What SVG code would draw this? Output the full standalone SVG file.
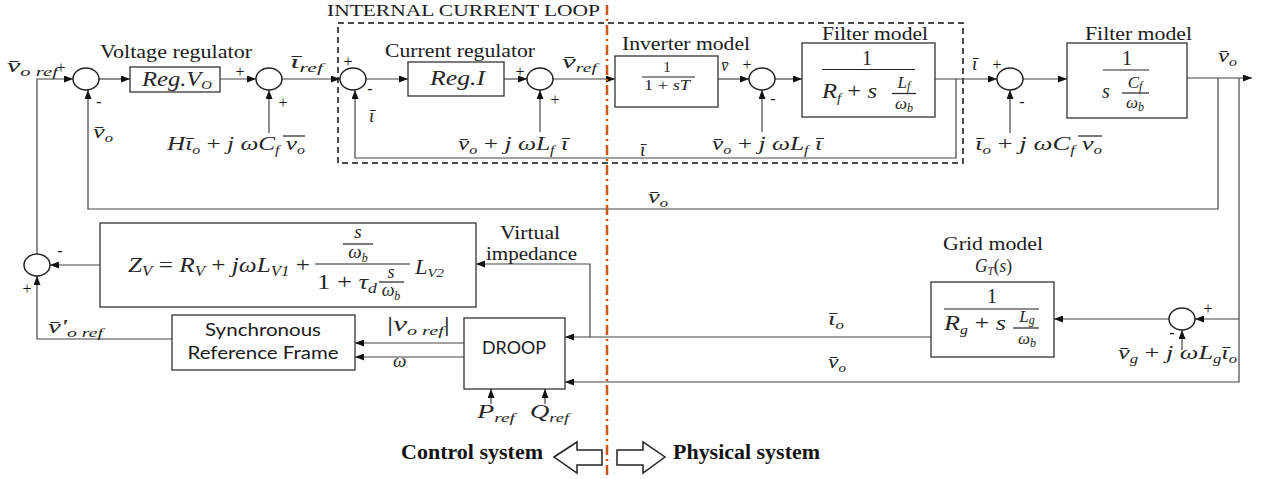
<svg xmlns="http://www.w3.org/2000/svg" width="1263" height="479" viewBox="0 0 1263 479">
<style>
.t{font-family:"Liberation Serif",serif;font-size:18px;fill:#1a1a1a}
.b{font-family:"Liberation Serif",serif;font-size:20px;font-weight:bold;fill:#111}
.m{font-family:"Liberation Serif",serif;font-style:italic;font-size:19px;fill:#262626}
.n{font-style:normal}
.sb{font-size:12px}
.pm{font-family:"Liberation Serif",serif;font-size:16px;fill:#111;text-anchor:middle}
.sf{font-family:Lato,"Liberation Sans",sans-serif;font-size:17px;fill:#1a1a1a;text-anchor:middle}
.box{fill:#fff;stroke:#333;stroke-width:1.3}
.sum{fill:#fff;stroke:#222;stroke-width:1.5}
.ln{fill:none;stroke:#444;stroke-width:1.2}
.bar{stroke:#222;stroke-width:1.2}
.mid{text-anchor:middle}
</style>
<defs>
<marker id="ah" markerWidth="9" markerHeight="7" refX="9" refY="3.5" orient="auto" markerUnits="userSpaceOnUse"><path d="M0,0 L9,3.5 L0,7 z" fill="#111"/></marker>
</defs>
<rect width="1263" height="479" fill="#fff"/>

<g id="internal-loop">
<rect x="338" y="23" width="625" height="140" fill="none" stroke="#111" stroke-width="1.5" stroke-dasharray="6 4"/>
<text class="t" x="327" y="16" style="font-size:17px" textLength="273" lengthAdjust="spacingAndGlyphs">INTERNAL CURRENT LOOP</text>
</g>

<g id="connectors" class="ln" marker-end="url(#ah)">
<path d="M37,254 V79 H73"/>
<path d="M99,79 H130"/>
<path d="M220,79 H256"/>
<path d="M269,133 V90"/>
<path d="M282,79 H340"/>
<path d="M366,79 H408"/>
<path d="M504,79 H527"/>
<path d="M540,132 V90"/>
<path d="M553,79 H615"/>
<path d="M718,79 H749"/>
<path d="M762,132 V90"/>
<path d="M775,79 H802"/>
<path d="M935,79 H997"/>
<path d="M956,79 V158 H355 V90"/>
<path d="M1010,133 V90"/>
<path d="M1023,79 H1067"/>
<path d="M1187,78 H1252"/>
<path d="M1218,78 V209 H88 V90"/>
<path d="M1239,78 V382 H565"/>
<path d="M1239,319 H1195"/>
<path d="M1182,350 V330"/>
<path d="M1169,319 H1054"/>
<path d="M931,337 H565"/>
<path d="M590,337 V264 H476"/>
<path d="M100,265 H50"/>
<path d="M464,343 H355"/>
<path d="M464,357 H355"/>
<path d="M172,339 H37 V276"/>
<path d="M491,404 V389"/>
<path d="M545,404 V389"/>
</g>

<g id="sum-junctions">
<ellipse id="sum1" class="sum" cx="86" cy="79" rx="13" ry="11"/>
<ellipse id="sum2" class="sum" cx="269" cy="79" rx="13" ry="11"/>
<ellipse id="sum3" class="sum" cx="353" cy="79" rx="13" ry="11"/>
<ellipse id="sum4" class="sum" cx="540" cy="79" rx="13" ry="11"/>
<ellipse id="sum5" class="sum" cx="762" cy="79" rx="13" ry="11"/>
<ellipse id="sum6" class="sum" cx="1010" cy="79" rx="13" ry="11"/>
<ellipse id="sum7" class="sum" cx="1182" cy="319" rx="13" ry="11"/>
<ellipse id="sum8" class="sum" cx="37" cy="265" rx="13" ry="11"/>
</g>

<g id="signs">
<text class="pm" x="61" y="73">+</text>
<text class="pm" x="99" y="107">-</text>
<text class="pm" x="240" y="77">+</text>
<text class="pm" x="283" y="108">+</text>
<text class="pm" x="348" y="67">+</text>
<text class="pm" x="370" y="94">-</text>
<text class="pm" x="520" y="77">+</text>
<text class="pm" x="555" y="105">+</text>
<text class="pm" x="747" y="70">+</text>
<text class="pm" x="773" y="104">-</text>
<text class="pm" x="997" y="70">+</text>
<text class="pm" x="1022" y="107">-</text>
<text class="pm" x="1208" y="314">+</text>
<text class="pm" x="1172" y="338">-</text>
<text class="pm" x="60" y="256">-</text>
<text class="pm" x="27" y="294">+</text>
</g>

<g id="voltage-regulator">
<text class="t" x="100" y="58" textLength="152" lengthAdjust="spacingAndGlyphs">Voltage regulator</text>
<rect class="box" x="130" y="67" width="90" height="25"/>
<text class="m" x="142" y="86" style="font-size:20px" textLength="70" lengthAdjust="spacingAndGlyphs">Reg.V<tspan class="sb" dy="3">O</tspan></text>
</g>

<g id="current-regulator">
<text class="t" x="385" y="57" textLength="150" lengthAdjust="spacingAndGlyphs">Current regulator</text>
<rect class="box" x="408" y="62" width="96" height="34"/>
<text class="m" x="430" y="85" style="font-size:20px" textLength="55" lengthAdjust="spacingAndGlyphs">Reg.I</text>
</g>

<g id="inverter-model">
<text class="t" x="622" y="50" textLength="128" lengthAdjust="spacingAndGlyphs">Inverter model</text>
<rect class="box" x="615" y="56" width="103" height="51"/>
<text class="m mid n" x="667" y="72" style="font-size:15px">1</text>
<line class="bar" x1="642" y1="77" x2="695" y2="77"/>
<text class="m mid" x="667" y="90" style="font-size:15px" textLength="46" lengthAdjust="spacingAndGlyphs"><tspan class="n">1 + </tspan>sT</text>
</g>

<g id="filter-model-1">
<text class="t" x="822" y="40" textLength="106" lengthAdjust="spacingAndGlyphs">Filter model</text>
<rect class="box" x="802" y="43" width="133" height="74"/>
<text class="m mid n" x="867" y="65" style="font-size:20px">1</text>
<line class="bar" x1="822" y1="69.5" x2="915" y2="69.5"/>
<text class="m" x="822" y="98" style="font-size:20px" textLength="55" lengthAdjust="spacingAndGlyphs">R<tspan class="sb" dy="4">f</tspan><tspan class="n" dy="-4"> + </tspan>s</text>
<text class="m mid" x="904" y="88" style="font-size:17px">L<tspan class="sb" dy="2">f</tspan></text>
<line class="bar" x1="892" y1="93.5" x2="916" y2="93.5"/>
<text class="m mid" x="904" y="109" style="font-size:17px">ω<tspan class="sb" dy="3">b</tspan></text>
</g>

<g id="filter-model-2">
<text class="t" x="1085" y="40" textLength="107" lengthAdjust="spacingAndGlyphs">Filter model</text>
<rect class="box" x="1067" y="43" width="120" height="75"/>
<text class="m mid n" x="1127" y="65" style="font-size:20px">1</text>
<line class="bar" x1="1103" y1="70" x2="1149" y2="70"/>
<text class="m" x="1102" y="98" style="font-size:20px">s</text>
<text class="m mid" x="1135" y="88" style="font-size:17px">C<tspan class="sb" dy="2">f</tspan></text>
<line class="bar" x1="1122" y1="93" x2="1149" y2="93"/>
<text class="m mid" x="1135" y="108" style="font-size:17px">ω<tspan class="sb" dy="3">b</tspan></text>
</g>

<g id="virtual-impedance">
<rect class="box" x="100" y="223" width="376" height="84"/>
<text class="m" x="128" y="272" style="font-size:21px" textLength="182" lengthAdjust="spacingAndGlyphs">Z<tspan class="sb" style="font-size:14px" dy="4">V</tspan><tspan class="n" dy="-4"> = </tspan>R<tspan style="font-size:14px" dy="4">V</tspan><tspan class="n" dy="-4"> + </tspan>jωL<tspan style="font-size:14px" dy="4">V1</tspan><tspan class="n" dy="-4"> +</tspan></text>
<text class="m mid" x="358" y="238" style="font-size:19px">s</text>
<line class="bar" x1="343" y1="244" x2="373" y2="244"/>
<text class="m mid" x="358" y="258" style="font-size:19px">ω<tspan class="sb" dy="4">b</tspan></text>
<line class="bar" x1="315" y1="264" x2="410" y2="264"/>
<text class="m" x="317" y="289" style="font-size:21px" textLength="60" lengthAdjust="spacingAndGlyphs"><tspan class="n">1 + </tspan>τ<tspan style="font-size:14px" dy="4">d</tspan></text>
<text class="m mid" x="391" y="278" style="font-size:18px">s</text>
<line class="bar" x1="379" y1="282" x2="404" y2="282"/>
<text class="m mid" x="391" y="296" style="font-size:18px">ω<tspan class="sb" dy="4">b</tspan></text>
<text class="m" x="415" y="274" style="font-size:20px" textLength="29" lengthAdjust="spacingAndGlyphs">L<tspan style="font-size:13px" dy="3">V2</tspan></text>
<text class="t" x="500" y="239" textLength="60" lengthAdjust="spacingAndGlyphs">Virtual</text>
<text class="t" x="486" y="260" textLength="91" lengthAdjust="spacingAndGlyphs">impedance</text>
</g>

<g id="synchronous-reference-frame">
<rect class="box" x="172" y="315" width="183" height="55"/>
<text class="sf" x="263" y="336" textLength="116" lengthAdjust="spacingAndGlyphs">Synchronous</text>
<text class="sf" x="263" y="359" textLength="151" lengthAdjust="spacingAndGlyphs">Reference Frame</text>
</g>

<g id="droop">
<rect class="box" x="464" y="318" width="101" height="71"/>
<text class="sf" x="514" y="354" textLength="64" lengthAdjust="spacingAndGlyphs">DROOP</text>
</g>

<g id="grid-model">
<text class="t" x="943" y="250" textLength="100" lengthAdjust="spacingAndGlyphs">Grid model</text>
<text class="m" x="975" y="272" textLength="37" lengthAdjust="spacingAndGlyphs">G<tspan class="sb" dy="3">T</tspan><tspan class="n" dy="-3">(</tspan>s<tspan class="n">)</tspan></text>
<rect class="box" x="931" y="282" width="123" height="75"/>
<text class="m mid n" x="992" y="303" style="font-size:20px">1</text>
<line class="bar" x1="944" y1="309" x2="1039" y2="309"/>
<text class="m" x="944" y="330" style="font-size:20px" textLength="62" lengthAdjust="spacingAndGlyphs">R<tspan class="sb" dy="4">g</tspan><tspan class="n" dy="-4"> + </tspan>s</text>
<text class="m mid" x="1027" y="322" style="font-size:17px">L<tspan class="sb" dy="2">g</tspan></text>
<line class="bar" x1="1013" y1="328" x2="1039" y2="328"/>
<text class="m mid" x="1027" y="344" style="font-size:17px">ω<tspan class="sb" dy="3">b</tspan></text>
</g>

<g id="labels">
<text class="m" x="7" y="72" style="font-size:19px" textLength="51" lengthAdjust="spacingAndGlyphs">v̄<tspan style="font-size:13px" dy="4">o ref</tspan></text>
<text class="m" x="93" y="138" textLength="20" lengthAdjust="spacingAndGlyphs">v̄<tspan class="sb" dy="4">o</tspan></text>
<text class="m" x="167" y="150" textLength="138" lengthAdjust="spacingAndGlyphs">Hῑ<tspan class="sb" dy="4">o</tspan><tspan class="n" dy="-4"> + </tspan>j ωC<tspan class="sb" dy="4">f</tspan><tspan dy="-4"> v</tspan><tspan class="sb" dy="4">o</tspan></text>
<line class="bar" x1="283" y1="136" x2="305" y2="136"/>
<text class="m" x="290" y="68" textLength="33" lengthAdjust="spacingAndGlyphs">ῑ<tspan class="sb" dy="4">ref</tspan></text>
<text class="m" x="369" y="122">ῑ</text>
<text class="m" x="458" y="150" textLength="110" lengthAdjust="spacingAndGlyphs">v̄<tspan class="sb" dy="4">o</tspan><tspan class="n" dy="-4"> + </tspan>j ωL<tspan class="sb" dy="4">f</tspan><tspan dy="-4"> ῑ</tspan></text>
<text class="m" x="562" y="68" textLength="35" lengthAdjust="spacingAndGlyphs">v̄<tspan class="sb" dy="4">ref</tspan></text>
<text class="m" x="721" y="71" style="font-size:17px">v̄</text>
<text class="m" x="712" y="150" textLength="110" lengthAdjust="spacingAndGlyphs">v̄<tspan class="sb" dy="4">o</tspan><tspan class="n" dy="-4"> + </tspan>j ωL<tspan class="sb" dy="4">f</tspan><tspan dy="-4"> ῑ</tspan></text>
<text class="m" x="640" y="156">ῑ</text>
<text class="m" x="972" y="70">ῑ</text>
<text class="m" x="975" y="150" textLength="127" lengthAdjust="spacingAndGlyphs">ῑ<tspan class="sb" dy="4">o</tspan><tspan class="n" dy="-4"> + </tspan>j ωC<tspan class="sb" dy="4">f</tspan><tspan dy="-4"> v</tspan><tspan class="sb" dy="4">o</tspan></text>
<line class="bar" x1="1078" y1="136" x2="1102" y2="136"/>
<text class="m" x="1218" y="62" textLength="19" lengthAdjust="spacingAndGlyphs">v̄<tspan class="sb" dy="4">o</tspan></text>
<text class="m" x="648" y="203" textLength="20" lengthAdjust="spacingAndGlyphs">v̄<tspan class="sb" dy="4">o</tspan></text>
<text class="m" x="48" y="333" textLength="55" lengthAdjust="spacingAndGlyphs">v̄'<tspan style="font-size:13px" dy="4">o ref</tspan></text>
<text class="m" x="387" y="331" style="font-size:20px" textLength="63" lengthAdjust="spacingAndGlyphs"><tspan class="n">|</tspan>v<tspan style="font-size:13px" dy="4">o ref</tspan><tspan class="n" dy="-4">|</tspan></text>
<text class="m" x="393" y="367">ω</text>
<text class="m" x="828" y="325" textLength="16" lengthAdjust="spacingAndGlyphs">ῑ<tspan class="sb" dy="4">o</tspan></text>
<text class="m" x="828" y="368" textLength="18" lengthAdjust="spacingAndGlyphs">v̄<tspan class="sb" dy="4">o</tspan></text>
<text class="m" x="1118" y="359" textLength="119" lengthAdjust="spacingAndGlyphs">v̄<tspan class="sb" dy="4">g</tspan><tspan class="n" dy="-4"> + </tspan>j ωL<tspan class="sb" dy="4">g</tspan><tspan dy="-4">ῑ</tspan><tspan class="sb" dy="4">o</tspan></text>
<text class="m" x="477" y="418" style="font-size:19px" textLength="38" lengthAdjust="spacingAndGlyphs">P<tspan style="font-size:13px" dy="4">ref</tspan></text>
<text class="m" x="530" y="418" style="font-size:19px" textLength="39" lengthAdjust="spacingAndGlyphs">Q<tspan style="font-size:13px" dy="4">ref</tspan></text>
</g>

<g id="system-divider">
<line x1="607" y1="5" x2="607" y2="479" stroke="#C65911" stroke-width="2.5" stroke-dasharray="10 4 2 4"/>
<polygon points="554,457 577,442 577,450 602,450 602,465 577,465 577,473" fill="#fff" stroke="#222" stroke-width="1.5"/>
<polygon points="617,450 643,450 643,442 665,457 643,473 643,465 617,465" fill="#fff" stroke="#222" stroke-width="1.5"/>
<text class="b" x="401" y="459" textLength="142" lengthAdjust="spacingAndGlyphs">Control system</text>
<text class="b" x="673" y="459" textLength="147" lengthAdjust="spacingAndGlyphs">Physical system</text>
</g>
</svg>
